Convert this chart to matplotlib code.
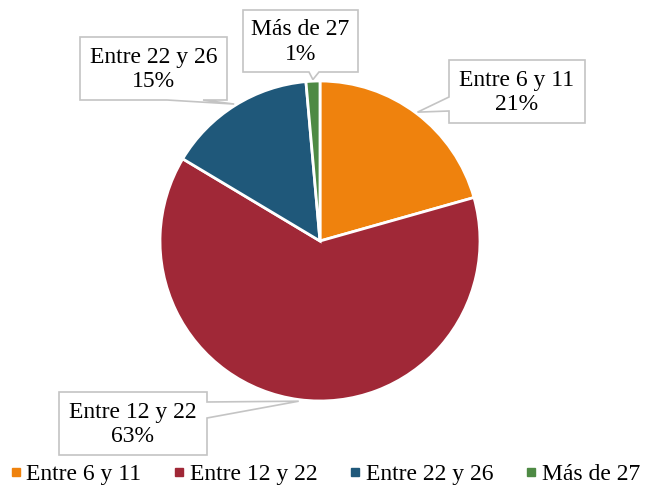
import numpy as np
import matplotlib.pyplot as plt
from matplotlib.patches import Polygon
from matplotlib.lines import Line2D

plt.rcParams['font.family'] = ['Liberation Serif', 'DejaVu Serif']

categories = ['Entre 6 y 11', 'Entre 12 y 22', 'Entre 22 y 26', 'Más de 27']
values = [20.6, 62.9, 15.0, 1.4]
colors = ['#EF820D', '#A02837', '#1F587A', '#4E8A44']

W, H = 646, 487
fig = plt.figure(figsize=(W / 100, H / 100), dpi=100)
# pie centered at (320, 241) px, radius 160 px
ax = fig.add_axes([160 / W, (H - 401) / H, 320 / W, 320 / H])
wedges, _ = ax.pie(values, colors=colors, startangle=90, counterclock=False,
                   radius=1, wedgeprops=dict(edgecolor='white', linewidth=2))
ax.set_xlim(-1, 1)
ax.set_ylim(-1, 1)
ax.set_aspect('equal')


def px(x, y):
    # pixel coords (origin top-left) -> figure fraction
    return (x / W, 1 - y / H)


def tip_of(w, r=1.01):
    a = np.deg2rad((w.theta1 + w.theta2) / 2)
    xd, yd = ax.transData.transform((r * np.cos(a), r * np.sin(a)))
    return xd, H - yd


# box (x0, y0, x1, y1), side of the pointer, base span along that side
callouts = [
    ((449, 60, 585, 123), 'left', (97, 111)),
    ((59, 392, 207, 455), 'right', (402, 418)),
    ((80, 37, 227, 100), 'bottom', (167, 203)),
    ((243, 10, 358, 72), 'bottom', (309, 319)),
]

for w, cat, v, (box, side, base) in zip(wedges, categories, values, callouts):
    x0, y0, x1, y1 = box
    tx, ty = tip_of(w)
    a, b = base
    if side == 'left':
        pts = [(x0, y0), (x1, y0), (x1, y1), (x0, y1), (x0, b), (tx, ty), (x0, a)]
    elif side == 'right':
        pts = [(x0, y0), (x1, y0), (x1, a), (tx, ty), (x1, b), (x1, y1), (x0, y1)]
    else:
        pts = [(x0, y0), (x1, y0), (x1, y1), (b, y1), (tx, ty), (a, y1), (x0, y1)]
    fig.patches.append(Polygon([px(*p) for p in pts], closed=True,
                               transform=fig.transFigure, facecolor='white',
                               edgecolor='#C4C4C4', linewidth=1.2, zorder=3))
    cx, cy = px((x0 + x1) / 2, (y0 + y1) / 2 + 1)
    fig.text(cx, cy, f'{cat}\n{round(v):.0f}%', ha='center', va='center',
             fontsize=17, linespacing=1.2, zorder=4)

handles = [Line2D([], [], marker='s', linestyle='', markersize=5.8,
                  markerfacecolor=c, markeredgecolor=c) for c in colors]
fig.legend(handles, categories, loc='center', bbox_to_anchor=(325 / W, 13 / H),
           ncol=4, frameon=False, fontsize=17, handlelength=0.5,
           handletextpad=0.2, columnspacing=1.35, borderaxespad=0,
           borderpad=0)

fig.savefig('out.png', dpi=100)
